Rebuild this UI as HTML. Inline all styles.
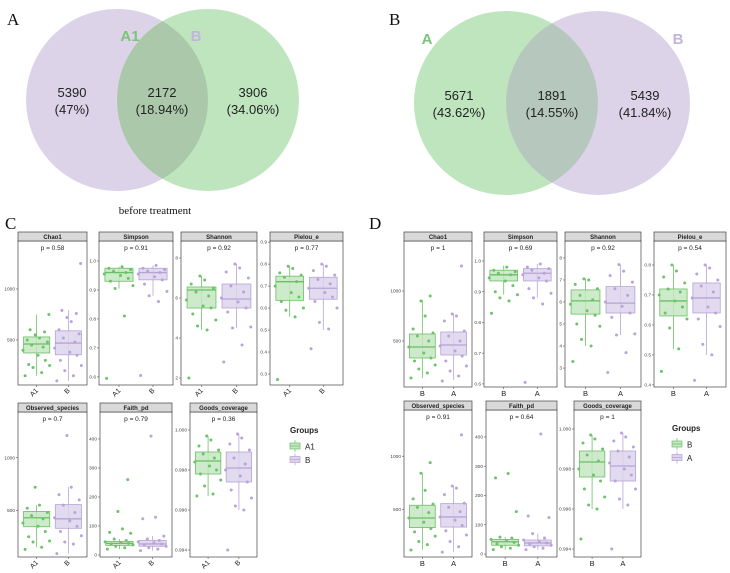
<!DOCTYPE html>
<html><head><meta charset="utf-8">
<style>
html,body{margin:0;padding:0;background:#fff;}
svg{display:block;font-family:"Liberation Sans",sans-serif;}
.serif{font-family:"Liberation Serif",serif;}
</style></head>
<body>
<svg id="fig" width="730" height="573" viewBox="0 0 730 573">
  <!-- Venn A -->
  <g>
    <circle cx="117" cy="100" r="91" fill="#dcd3e9"/>
    <circle cx="208" cy="100" r="91" fill="#bfe5bf"/>
    <clipPath id="clipA"><circle cx="117" cy="100" r="91"/></clipPath>
    <circle cx="208" cy="100" r="91" fill="#abc9aa" clip-path="url(#clipA)"/>
    <text x="130" y="41" font-size="15" font-weight="bold" fill="#7cc47a" text-anchor="middle">A1</text>
    <text x="196" y="41" font-size="15" font-weight="bold" fill="#c3b4dc" text-anchor="middle">B</text>
    <g font-size="13" fill="#222" text-anchor="middle">
      <text x="72" y="97">5390</text>
      <text x="72" y="114">(47%)</text>
      <text x="162" y="97">2172</text>
      <text x="162" y="114">(18.94%)</text>
      <text x="253" y="97">3906</text>
      <text x="253" y="114">(34.06%)</text>
    </g>
    <text class="serif" x="155" y="214" font-size="11" fill="#111" text-anchor="middle">before treatment</text>
  </g>
  <!-- Venn B -->
  <g>
    <circle cx="506" cy="103" r="92" fill="#bfe5bf"/>
    <circle cx="598" cy="103" r="92" fill="#dcd3e9"/>
    <clipPath id="clipB"><circle cx="506" cy="103" r="92"/></clipPath>
    <circle cx="598" cy="103" r="92" fill="#b6c8be" clip-path="url(#clipB)"/>
    <text x="427" y="44" font-size="15" font-weight="bold" fill="#7cc47a" text-anchor="middle">A</text>
    <text x="678" y="44" font-size="15" font-weight="bold" fill="#c3b4dc" text-anchor="middle">B</text>
    <g font-size="13" fill="#222" text-anchor="middle">
      <text x="459" y="100">5671</text>
      <text x="459" y="117">(43.62%)</text>
      <text x="552" y="100">1891</text>
      <text x="552" y="117">(14.55%)</text>
      <text x="645" y="100">5439</text>
      <text x="645" y="117">(41.84%)</text>
    </g>
  </g>
  <g class="serif" font-size="17" fill="#111">
    <text x="7" y="25">A</text>
    <text x="389" y="25">B</text>
    <text x="5" y="229">C</text>
    <text x="369" y="229">D</text>
  </g>
  <g id="plots"></g>
</svg>
<script>
// ---- data: [lowerWhisker, q1, median, q3, upperWhisker] per group ----
const cChao1Stats=[[150,373,461,530,750],[100,355,470,590,790]];
const cChao1Pts=[[150,180,230,250,260,300,350,400,430,450,480,500,520,550,580,600,750],[100,150,200,250,300,350,380,420,480,520,560,600,680,720,760,790,1250]];
const cSimpsonStats=[[0.905,0.93,0.96,0.975,0.98],[0.88,0.935,0.96,0.975,0.985]];
const cSimpsonPts=[[0.595,0.81,0.905,0.915,0.93,0.94,0.95,0.955,0.96,0.965,0.97,0.975,0.98],[0.605,0.86,0.88,0.895,0.92,0.935,0.945,0.955,0.96,0.965,0.97,0.975,0.985]];
const cShannonStats=[[4.4,5.5,6.4,6.55,7.1],[4.5,5.5,5.95,6.7,7.7]];
const cShannonPts=[[2.0,4.4,4.6,4.9,5.2,5.5,5.6,5.9,6.1,6.3,6.5,6.7,6.9,7.1],[2.8,3.65,4.5,4.55,5.3,5.5,5.8,6.0,6.3,6.6,7.0,7.3,7.5,7.7]];
const cPielouStats=[[0.56,0.635,0.72,0.745,0.79],[0.5,0.64,0.69,0.74,0.8]];
const cPielouPts=[[0.275,0.56,0.59,0.6,0.63,0.65,0.67,0.7,0.72,0.74,0.75,0.76,0.78,0.79],[0.415,0.505,0.535,0.6,0.63,0.65,0.67,0.69,0.71,0.73,0.75,0.77,0.79,0.8]];
const cObservedStats=[[150,345,430,490,550],[90,330,420,555,720]];
const cObservedPts=[[130,150,200,210,250,300,350,380,420,450,480,520,550,720],[90,180,200,260,300,350,400,430,480,550,600,650,720,1210]];
const cFaithStats=[[20,33,40,47,55],[15,30,38,50,65]];
const cFaithPts=[[20,25,30,35,38,40,42,45,50,55,75,78,90,150,260],[15,20,25,30,35,38,42,45,50,55,65,125,130,410]];
const cGoodsStats=[[0.9967,0.9978,0.99845,0.9989,0.9997],[0.9960,0.9974,0.9981,0.9989,0.9998]];
const cGoodsPts=[[0.9967,0.9968,0.9972,0.9975,0.9978,0.998,0.9982,0.9984,0.9986,0.9988,0.999,0.9992,0.9995,0.9997],[0.994,0.996,0.9962,0.9966,0.997,0.9974,0.9977,0.998,0.9983,0.9986,0.999,0.9993,0.9996,0.9998]];
const dChao1Stats=[[130,330,440,570,910],[110,360,460,590,770]];
const dChao1Pts=[[130,180,220,260,300,330,380,440,500,550,580,620,750,900,950],[100,150,200,250,300,350,400,450,500,550,600,700,750,770,1250]];
const dSimpsonStats=[[0.89,0.935,0.955,0.97,0.985],[0.88,0.935,0.96,0.975,0.99]];
const dSimpsonPts=[[0.83,0.87,0.88,0.89,0.9,0.92,0.935,0.945,0.955,0.96,0.965,0.97,0.98],[0.605,0.86,0.88,0.895,0.91,0.935,0.945,0.955,0.96,0.97,0.975,0.98,0.99]];
const dShannonStats=[[4.0,5.45,6.05,6.55,7.05],[4.5,5.5,5.95,6.7,7.7]];
const dShannonPts=[[3.3,4.0,4.3,4.9,5.0,5.4,5.6,5.9,6.1,6.3,6.6,6.8,7.0,7.05],[2.8,3.7,4.5,4.55,5.3,5.5,5.8,6.0,6.3,6.6,6.9,7.2,7.4,7.7]];
const dPielouStats=[[0.52,0.63,0.68,0.72,0.8],[0.5,0.64,0.69,0.74,0.8]];
const dPielouPts=[[0.445,0.52,0.59,0.62,0.64,0.66,0.68,0.7,0.71,0.72,0.74,0.76,0.78,0.8],[0.415,0.5,0.535,0.595,0.62,0.64,0.66,0.69,0.71,0.73,0.75,0.77,0.79,0.8]];
const dObservedStats=[[120,330,420,540,840],[100,335,430,555,720]];
const dObservedPts=[[120,170,200,250,290,320,380,420,470,520,550,600,680,840,940],[100,150,200,260,300,350,400,430,480,520,560,640,700,720,1200]];
const dFaithStats=[[15,30,42,50,58],[15,28,38,48,70]];
const dFaithPts=[[15,20,25,30,35,40,45,50,55,58,145,260,275],[15,20,25,30,35,38,42,48,55,70,125,130,410]];
const dGoodsStats=[[0.9960,0.9976,0.99835,0.9989,0.9997],[0.9960,0.9974,0.99815,0.9989,0.9998]];
const dGoodsPts=[[0.9945,0.996,0.9962,0.9966,0.997,0.9974,0.9977,0.998,0.9984,0.9987,0.999,0.9993,0.9995,0.9997],[0.994,0.9962,0.9965,0.997,0.9974,0.9977,0.998,0.9983,0.9986,0.9989,0.9991,0.9994,0.9996,0.9998]];
// tick labels
const tChao=[500,1000];
const tSimpson=[0.6,0.7,0.8,0.9,1.0];
const tShannonC=[2,4,6,8];
const tShannonD=[3,4,5,6,7,8];
const tPielouC=[0.3,0.4,0.5,0.6,0.7,0.8,0.9];
const tPielouD=[0.4,0.5,0.6,0.7,0.8];
const tFaith=[0,100,200,300,400];
const tGoods=[0.994,0.996,0.998,1.000];
const cCats=["A1","B"];
const dCats=["B","A"];
const cPvals=["p = 0.58","p = 0.91","p = 0.92","p = 0.77","p = 0.7","p = 0.79","p = 0.36"];
const dPvals=["p = 1","p = 0.69","p = 0.92","p = 0.54","p = 0.91","p = 0.64","p = 1"];

// ---- layout (pixels) ----
const NS="http://www.w3.org/2000/svg";
const root=document.getElementById('plots');
function mk(tag,attrs,parent){const e=document.createElementNS(NS,tag);for(const k in attrs)e.setAttribute(k,attrs[k]);(parent||root).appendChild(e);return e;}
const jit=[-0.8,0.35,-0.25,0.9,-0.55,0.6,0.1,-0.95,0.45,-0.35,0.75,-0.65,0.2,-0.1,0.55,-0.45,0.85];
const COL=[{fill:"#c4e6c1",stroke:"#6cbf66",pt:"#6cc36a"},{fill:"#ddd3ec",stroke:"#b6a3d6",pt:"#b9a3d9"}];

function fmt(v,dec){return dec==null?String(v):v.toFixed(dec);}
function panel(o){
  const g=mk('g',{});
  
  
  const x0=o.x0,x1=o.x1,W=x1-x0,sT=o.sT,sB=sT+9,yB=o.yB;
  const y=v=>sB+(o.dTop-v)/(o.dTop-o.dBot)*(yB-sB);
  const xc=i=>x0+W*(i===0?0.27:0.73);
  const bw=W*0.38;
  mk('rect',{x:x0,y:sB,width:W,height:yB-sB,fill:"#fff",stroke:"#444","stroke-width":0.7},g);
  const strip=mk('rect',{x:x0,y:sT,width:W,height:9,fill:"#d9d9d9",stroke:"#444","stroke-width":0.7},g);
  
  
  const st=mk('text',{x:x0+W/2,y:sT+7,"font-size":6,"font-weight":"bold","text-anchor":"middle",fill:"#222"},g);
  st.textContent=o.title;
  
  
  const pt=mk('text',{x:x0+W/2,y:sB+9,"font-size":6.5,"text-anchor":"middle",fill:"#222"},g);
  pt.textContent=o.p;
  
  
  o.ticks.forEach(t=>{
    const yy=y(t);
    mk('line',{x1:x0-2,x2:x0,y1:yy,y2:yy,stroke:"#555","stroke-width":0.6},g);
    const tl=mk('text',{x:x0-3,y:yy+1.6,"font-size":4.8,"text-anchor":"end",fill:"#444"},g);
    tl.textContent=fmt(t,o.dec);
    
    
  });
  o.stats.forEach((s,i)=>{
    const c=COL[i],cx=xc(i);
    const bg=mk('g',{},g);
    
    
    mk('line',{x1:cx,x2:cx,y1:y(s[0]),y2:y(s[4]),stroke:c.stroke,"stroke-width":0.8},bg);
    mk('rect',{x:cx-bw/2,y:y(s[3]),width:bw,height:y(s[1])-y(s[3]),fill:c.fill,stroke:c.stroke,"stroke-width":0.8,"fill-opacity":0.85},bg);
    mk('line',{x1:cx-bw/2,x2:cx+bw/2,y1:y(s[2]),y2:y(s[2]),stroke:c.stroke,"stroke-width":1.3},bg);
    o.pts[i].forEach((v,k)=>{
      const p=mk('circle',{cx:cx+jit[k%jit.length]*bw*0.55,cy:y(v),r:1.5,fill:c.pt},bg);
      
      
    });
    mk('line',{x1:cx,x2:cx,y1:yB,y2:yB+2,stroke:"#555","stroke-width":0.6},g);
    let xl;
    if(o.rot){
      xl=mk('text',{x:cx+2,y:yB+6,"font-size":7,"text-anchor":"end",fill:"#222",transform:`rotate(-45 ${cx+2} ${yB+6})`},g);
    }else{
      xl=mk('text',{x:cx,y:yB+9,"font-size":7.5,"text-anchor":"middle",fill:"#222"},g);
    }
    xl.textContent=o.cats[i];
    
    
  });
}
function legend(x,y,cats,name){
  const g=mk('g',{});
  
  
  const t=mk('text',{x:x,y:y,"font-size":8,"font-weight":"bold",fill:"#222"},g);
  t.textContent="Groups";
  cats.forEach((c,i)=>{
    const yy=y+9+i*13.5,col=COL[i];
    const k=mk('g',{},g);
    
    
    mk('line',{x1:x+5,x2:x+5,y1:yy-2,y2:yy+10,stroke:col.stroke,"stroke-width":0.7},k);
    mk('rect',{x:x,y:yy+1,width:10,height:6,fill:col.fill,stroke:col.stroke,"stroke-width":0.7},k);
    mk('line',{x1:x,x2:x+10,y1:yy+4,y2:yy+4,stroke:col.stroke,"stroke-width":0.7},k);
    const lt=mk('text',{x:x+15,y:yy+7.5,"font-size":8,fill:"#222"},k);
    lt.textContent=c;
  });
}
// C panels
panel({name:"c-chao1",title:"Chao1",p:cPvals[0],x0:18,x1:87,sT:232,yB:385,dTop:1470,dBot:59,ticks:tChao,stats:cChao1Stats,pts:cChao1Pts,cats:cCats,rot:true});
panel({name:"c-simpson",title:"Simpson",p:cPvals[1],x0:99,x1:173,sT:232,yB:385,dTop:1.069,dBot:0.572,ticks:tSimpson,dec:1,stats:cSimpsonStats,pts:cSimpsonPts,cats:cCats,rot:true});
panel({name:"c-shannon",title:"Shannon",p:cPvals[2],x0:181,x1:257,sT:232,yB:385,dTop:8.85,dBot:1.65,ticks:tShannonC,stats:cShannonStats,pts:cShannonPts,cats:cCats,rot:true});
panel({name:"c-pielou",title:"Pielou_e",p:cPvals[3],x0:270,x1:343,sT:232,yB:385,dTop:0.905,dBot:0.25,ticks:tPielouC,dec:1,stats:cPielouStats,pts:cPielouPts,cats:cCats,rot:true});
panel({name:"c-observed",title:"Observed_species",p:cPvals[4],x0:18,x1:87,sT:403,yB:557,dTop:1433,dBot:58,ticks:tChao,stats:cObservedStats,pts:cObservedPts,cats:cCats,rot:true});
panel({name:"c-faith",title:"Faith_pd",p:cPvals[5],x0:100,x1:172,sT:403,yB:557,dTop:493,dBot:-7,ticks:tFaith,stats:cFaithStats,pts:cFaithPts,cats:cCats,rot:true});
panel({name:"c-goods",title:"Goods_coverage",p:cPvals[6],x0:190,x1:257,sT:403,yB:557,dTop:1.0009,dBot:0.99365,ticks:tGoods,dec:3,stats:cGoodsStats,pts:cGoodsPts,cats:cCats,rot:true});
legend(290,433,cCats,"legend-c");
// D panels
panel({name:"d-chao1",title:"Chao1",p:dPvals[0],x0:404,x1:472,sT:232,yB:387,dTop:1500,dBot:40,ticks:tChao,stats:dChao1Stats,pts:dChao1Pts,cats:dCats});
panel({name:"d-simpson",title:"Simpson",p:dPvals[1],x0:484,x1:557,sT:232,yB:387,dTop:1.065,dBot:0.59,ticks:tSimpson,dec:1,stats:dSimpsonStats,pts:dSimpsonPts,cats:dCats});
panel({name:"d-shannon",title:"Shannon",p:dPvals[2],x0:565,x1:641,sT:232,yB:387,dTop:8.77,dBot:2.14,ticks:tShannonD,stats:dShannonStats,pts:dShannonPts,cats:dCats});
panel({name:"d-pielou",title:"Pielou_e",p:dPvals[3],x0:654,x1:726,sT:232,yB:387,dTop:0.88,dBot:0.393,ticks:tPielouD,dec:1,stats:dPielouStats,pts:dPielouPts,cats:dCats});
panel({name:"d-observed",title:"Observed_species",p:dPvals[4],x0:404,x1:472,sT:401,yB:557,dTop:1434,dBot:54,ticks:tChao,stats:dObservedStats,pts:dObservedPts,cats:dCats});
panel({name:"d-faith",title:"Faith_pd",p:dPvals[5],x0:486,x1:557,sT:401,yB:557,dTop:492,dBot:-10,ticks:tFaith,stats:dFaithStats,pts:dFaithPts,cats:dCats});
panel({name:"d-goods",title:"Goods_coverage",p:dPvals[6],x0:574,x1:641,sT:401,yB:557,dTop:1.00095,dBot:0.9936,ticks:tGoods,dec:3,stats:dGoodsStats,pts:dGoodsPts,cats:dCats});
legend(672,431,dCats,"legend-d");
</script>
</body></html>
